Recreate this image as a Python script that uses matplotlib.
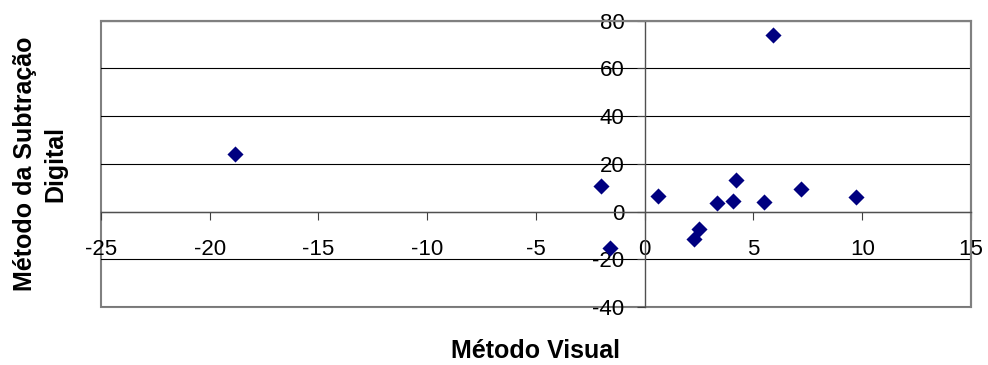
import matplotlib
matplotlib.use('Agg')
import matplotlib.pyplot as plt

plt.rcParams['font.family'] = ['Liberation Sans', 'DejaVu Sans']
plt.rcParams['axes.unicode_minus'] = False

# Diferenças medidas: método visual (x) e subtração digital (y)
visual = [-18.86, -2.01, -1.58, 0.6, 2.25, 2.5, 3.33, 4.08, 4.19, 5.5, 5.89, 7.19, 9.69]
subtracao = [24.0, 10.5, -15.3, 6.3, -11.4, -7.4, 3.5, 4.2, 13.3, 3.8, 73.9, 9.6, 5.9]

xticks = [-25, -20, -15, -10, -5, 0, 5, 10, 15]
yticks = [-40, -20, 0, 20, 40, 60, 80]

fig = plt.figure(figsize=(9.88, 3.65), dpi=100)
ax = fig.add_axes([0.1022, 0.1589, 0.8806, 0.7849])

ax.scatter(visual, subtracao, marker='D', s=8.2**2, color='#000080',
           linewidths=0, zorder=5, clip_on=False)

ax.set_xlim(-25, 15)
ax.set_ylim(-40, 80)
ax.set_xticks(xticks)
ax.set_yticks(yticks)

# grade horizontal
ax.yaxis.grid(True, color='black', linewidth=0.8)
ax.set_axisbelow(True)

# eixos cruzando na origem
for side in ['left', 'bottom']:
    ax.spines[side].set_position(('data', 0))
    ax.spines[side].set_color('#505050')
    ax.spines[side].set_linewidth(1.0)
for side in ['top', 'right']:
    ax.spines[side].set_color('#808080')
    ax.spines[side].set_linewidth(1.5)

# moldura da área de plotagem
ax.patch.set_edgecolor('#808080')
ax.patch.set_linewidth(1.5)

ax.tick_params(axis='x', direction='out', length=5.5, width=0.8,
               color='#404040', labelsize=16, pad=14)
ax.tick_params(axis='y', direction='out', length=5.5, width=0.8,
               color='#404040', labelsize=16, pad=9)

ax.set_xlabel('Método Visual', fontsize=18, fontweight='bold')
ax.xaxis.set_label_coords(0.5, -0.113)
ax.set_ylabel('Método da Subtração\nDigital', fontsize=18, fontweight='bold',
              linespacing=1.3)
ax.yaxis.set_label_coords(-0.039, 0.5)

fig.savefig('out.png', dpi=100)
